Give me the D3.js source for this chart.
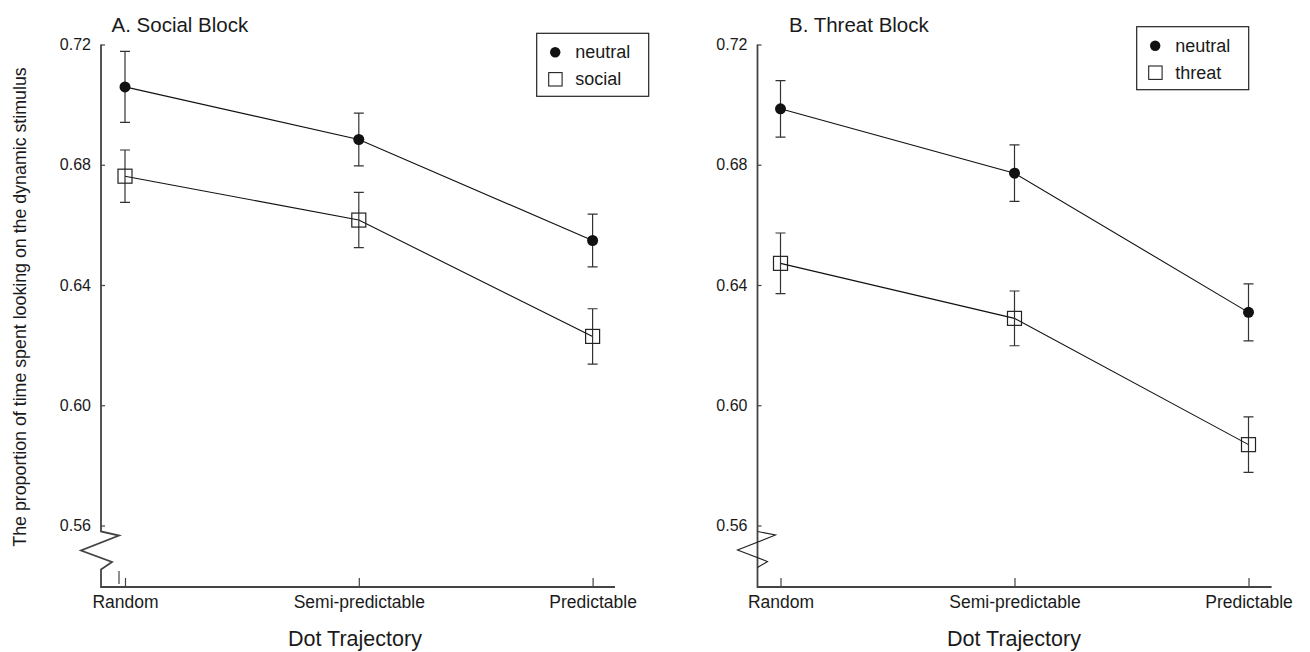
<!DOCTYPE html>
<html lang="en">
<head>
<meta charset="UTF-8">
<title>Dot Trajectory</title>
<script src="https://d3js.org/d3.v7.min.js"></script>
<style>
    body { margin: 0; background: #ffffff; font-family: "Liberation Sans", Arial, sans-serif; }
    svg text { fill: #1a1a1a; }
    .tick text { font-size: 16px; }
    .xaxis .tick text { font-size: 17.5px; }
    .title { font-size: 20.5px; }
    .axis-title { font-size: 21.5px; }
    .ylabel { font-size: 17.8px; }
    .legend text { font-size: 18px; }
</style>
</head>
<body>
<svg width="1310" height="652"></svg>
<script>
// data
const categories = ["Random", "Semi-predictable", "Predictable"];
const yTicks = [0.56, 0.60, 0.64, 0.68, 0.72];

const socialNeutral    = [0.7059, 0.6884, 0.6548];
const socialNeutralErr = [0.0118, 0.0088, 0.0088];
const socialSocial     = [0.6762, 0.6616, 0.6229];
const socialSocialErr  = [0.0087, 0.0092, 0.0092];

const threatNeutral    = [0.6986, 0.6772, 0.6309];
const threatNeutralErr = [0.0094, 0.0094, 0.0095];
const threatThreat     = [0.6472, 0.6289, 0.5869];
const threatThreatErr  = [0.0101, 0.0091, 0.0092];

const svg = d3.select("svg");

const y = d3.scaleLinear().domain([0.56, 0.72]).range([525.5, 44.5]);
const xAxisY = 587;

// rotated y label shared by both panels
svg.append("text")
   .attr("class", "ylabel")
   .attr("transform", "translate(26,307) rotate(-90)")
   .attr("text-anchor", "middle")
   .text("The proportion of time spent looking on the dynamic stimulus");

function drawPanel(p) {
    const g = svg.append("g");
    const x = d3.scalePoint().domain(categories).range(p.xRange);
    const x0 = p.axisX;

    // y axis ticks (inward) and labels
    const ya = g.append("g")
        .attr("transform", `translate(${x0},0)`)
        .call(d3.axisLeft(y).tickValues(yTicks).tickFormat(d3.format(".2f"))
                .tickSizeInner(-4).tickSizeOuter(0).tickPadding(10));
    ya.select(".domain").remove();
    ya.selectAll("line").attr("stroke", "#444").attr("stroke-width", 1.2);

    // x axis ticks (inward) and labels
    const xa = g.append("g")
        .attr("class", "xaxis")
        .attr("transform", `translate(0,${xAxisY})`)
        .call(d3.axisBottom(x).tickSizeInner(-9).tickSizeOuter(0).tickPadding(8.5));
    xa.select(".domain").remove();
    xa.selectAll("line").attr("stroke", "#444").attr("stroke-width", 1.2);

    // axis lines with the break symbol near the bottom of the y axis
    const yb = y(0.56);
    const axisPath = p.brokenAxis
        ? `M${x0},${y(0.72)}V${yb + 6}L${x0 + 18},${yb + 10}L${x0 - 20},${yb + 25}L${x0 + 11},${yb + 36.5}L${x0},${yb + 44}V${xAxisY}H${p.axisEnd}`
        : `M${x0},${y(0.72)}V${xAxisY}H${p.axisEnd}`;
    g.append("path")
     .attr("d", axisPath)
     .attr("fill", "none")
     .attr("stroke", "#444")
     .attr("stroke-width", 1.8);

    if (p.brokenAxis) {
        // small stray tick left of the first category
        g.append("path")
         .attr("d", `M${x(categories[0]) - 6},${xAxisY - 16}V${xAxisY - 3}`)
         .attr("stroke", "#444").attr("stroke-width", 1.2);
    } else {
        g.append("path")
         .attr("d", `M${x0},${yb + 6}L${x0 + 18},${yb + 9.5}L${x0 - 20},${yb + 24.5}L${x0 + 10},${yb + 36}L${x0},${yb + 42}`)
         .attr("fill", "none")
         .attr("stroke", "#222")
         .attr("stroke-width", 1.1);
    }

    // axis title
    g.append("text")
     .attr("class", "axis-title")
     .attr("x", p.titleX)
     .attr("y", 646)
     .attr("text-anchor", "middle")
     .text("Dot Trajectory");

    // panel title
    g.append("text")
     .attr("class", "title")
     .attr("x", p.headX)
     .attr("y", 32)
     .text(p.heading);

    const line = d3.line().x((d, i) => x(categories[i])).y(d => y(d));

    p.series.forEach(s => {
        g.append("path")
         .datum(s.values)
         .attr("d", line)
         .attr("fill", "none")
         .attr("stroke", "#111")
         .attr("stroke-width", 1.1);

        // error bars
        const eb = g.append("g");
        s.values.forEach((v, i) => {
            const cx = x(categories[i]);
            const t = y(v + s.err[i]), b = y(v - s.err[i]);
            eb.append("path")
              .attr("d", `M${cx},${t}V${b}M${cx - 5},${t}H${cx + 5}M${cx - 5},${b}H${cx + 5}`)
              .attr("fill", "none")
              .attr("stroke", "#333")
              .attr("stroke-width", 1.2);
        });

        // markers
        s.values.forEach((v, i) => {
            const cx = x(categories[i]);
            if (s.shape === "dot") {
                g.append("circle").attr("cx", cx).attr("cy", y(v)).attr("r", 5.5).attr("fill", "#111");
            } else {
                g.append("rect").attr("x", cx - 7).attr("y", y(v) - 7)
                 .attr("width", 14).attr("height", 14)
                 .attr("fill", "none").attr("stroke", "#222").attr("stroke-width", 1.2);
            }
        });
    });

    // legend
    const lg = g.append("g").attr("class", "legend")
        .attr("transform", `translate(${p.legend[0]},${p.legend[1]})`);
    lg.append("rect").attr("x", 0).attr("y", 0).attr("width", 112).attr("height", 63)
      .attr("fill", "#fff").attr("stroke", "#222").attr("stroke-width", 1.2);
    p.series.forEach((s, i) => {
        const cy = 19 + i * 27;
        if (s.shape === "dot") {
            lg.append("circle").attr("cx", 18.5).attr("cy", cy).attr("r", 5.2).attr("fill", "#111");
        } else {
            lg.append("rect").attr("x", 12).attr("y", cy - 6.7).attr("width", 13.4).attr("height", 13.4)
              .attr("fill", "none").attr("stroke", "#222").attr("stroke-width", 1.1);
        }
        lg.append("text").attr("x", 38.5).attr("y", cy).attr("dy", "0.33em").text(s.name);
    });
}

drawPanel({
    heading: "A. Social Block",
    headX: 111.5,
    axisX: 101,
    axisEnd: 615,
    xRange: [125, 592.6],
    titleX: 355,
    brokenAxis: true,
    legend: [536.7, 33.3],
    series: [
        {name: "neutral", shape: "dot", values: socialNeutral, err: socialNeutralErr},
        {name: "social", shape: "square", values: socialSocial, err: socialSocialErr}
    ]
});

drawPanel({
    heading: "B. Threat Block",
    headX: 789,
    axisX: 757.5,
    axisEnd: 1271.6,
    xRange: [780.5, 1248.5],
    titleX: 1014,
    brokenAxis: false,
    legend: [1136.7, 26.7],
    series: [
        {name: "neutral", shape: "dot", values: threatNeutral, err: threatNeutralErr},
        {name: "threat", shape: "square", values: threatThreat, err: threatThreatErr}
    ]
});
</script>
</body>
</html>
